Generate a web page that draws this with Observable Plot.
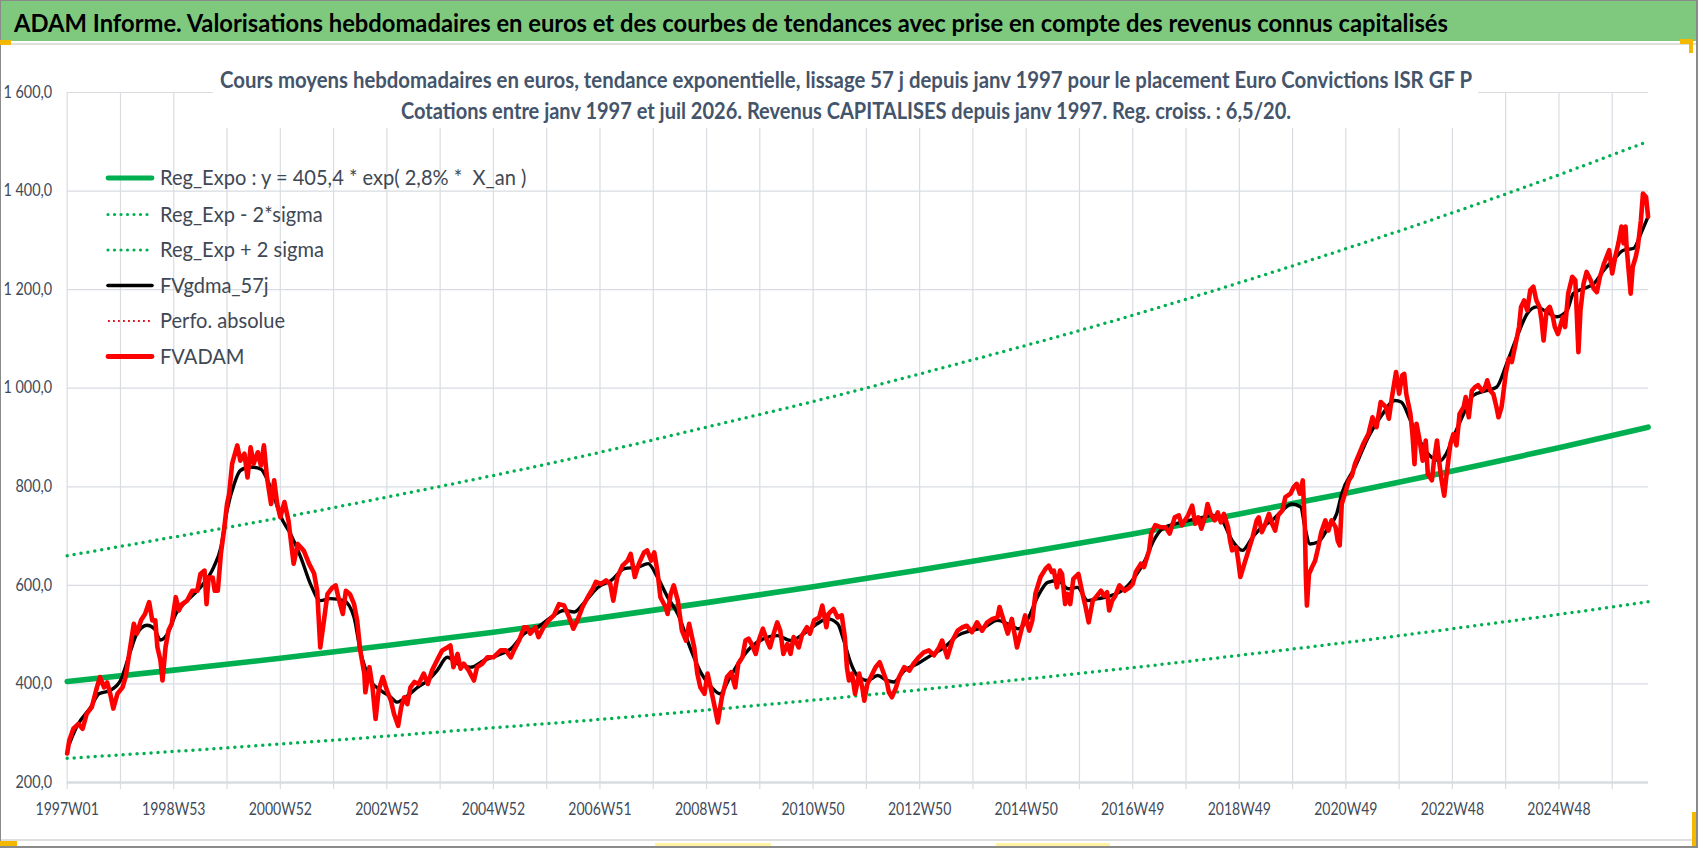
<!DOCTYPE html>
<html lang="fr">
<head>
<meta charset="utf-8">
<title>ADAM Informe</title>
<script src="https://cdn.jsdelivr.net/npm/d3@7"></script>
<script src="https://cdn.jsdelivr.net/npm/@observablehq/plot@0.6"></script>
<style>
  html, body { margin:0; padding:0; background:#fff; }
  #wrap { position:relative; width:1698px; height:848px; overflow:hidden; background:#fff; font-family: Lato, "Open Sans", sans-serif; }
  #chart { position:absolute; left:0; top:42px; width:1698px; height:806px; }
  #chart svg { display:block; }
  #head { position:absolute; left:0; top:0; display:block; }
  .deco { position:absolute; }
</style>
</head>
<body>
<div id="wrap">
  <div id="chart"></div>
  <svg id="head" width="1698" height="46" xmlns="http://www.w3.org/2000/svg">
    <rect x="0" y="0" width="1698" height="41" fill="#7fc97f"></rect>
    <rect x="0" y="43" width="1698" height="2" fill="#dedede"></rect>
    <text id="title" x="14" y="32" text-anchor="start" font-family="Lato, 'Open Sans', sans-serif" font-weight="700" font-size="25" fill="#000">ADAM Informe. Valorisations hebdomadaires en euros et des courbes de tendances avec prise en compte des revenus connus capitalisés</text>
  </svg>
  <div class="deco" style="left:0;top:0;width:1px;height:848px;background:#8a8a8a"></div>
  <div class="deco" style="left:0;top:0;width:1698px;height:1px;background:#8a8a8a"></div>
  <div class="deco" style="left:1696px;top:0;width:2px;height:848px;background:#8a8a8a"></div>
  <div class="deco" style="left:0;top:846px;width:1698px;height:2px;background:#8a8a8a"></div>
  <div class="deco" style="left:1px;top:839px;width:1694px;height:2px;background:#dedede"></div>
  <div class="deco" style="left:0;top:40px;width:11px;height:5px;background:#f5b800"></div>
  <div class="deco" style="left:1680px;top:39px;width:13px;height:5px;background:#f5b800"></div>
  <div class="deco" style="left:1689px;top:39px;width:4px;height:14px;background:#f5b800"></div>
  <div class="deco" style="left:0;top:841px;width:17px;height:5px;background:#f5b800"></div>
  <div class="deco" style="left:1692px;top:812px;width:4px;height:34px;background:#f5b800"></div>
  <div class="deco" style="left:655px;top:843px;width:116px;height:3px;background:#fff2a0"></div>
  <div class="deco" style="left:996px;top:843px;width:114px;height:3px;background:#fff2a0"></div>
</div>
<script>
// ---------- data (week index since 1997W01) ----------
const xTickWeeks = [0,104,208,312,416,520,624,728,832,936,1040,1144,1248,1352,1456];
const xTickLabels = ["1997W01","1998W53","2000W52","2002W52","2004W52","2006W51","2008W51","2010W50","2012W50","2014W50","2016W49","2018W49","2020W49","2022W48","2024W48"];
const gridWeeks = [0,52,104,156,208,260,312,364,416,468,520,572,624,676,728,780,832,884,936,988,1040,1092,1144,1196,1248,1300,1352,1404,1456,1508];
const yTicks = [200,400,600,800,1000,1200,1400,1600];

const trendWeeks = [0,104,208,312,416,520,624,728,832,936,1040,1144,1248,1352,1456,1543];
const regExpo  = [405,428,452,478,505,534,565,597,631,667,704,745,787,832,879,921];
const regLow   = [249,263,278,294,311,328,347,367,388,410,433,458,484,512,541,567];
const regHigh  = [660,698,737,779,823,870,921,973,1029,1087,1148,1214,1283,1356,1433,1501];

const fvadamWeeks = [0,2,6,11,15,19,24,29,32,36,39,42,45,49,54,57,60,65,68,72,76,80,83,86,88,91,93,96,99,102,106,109,112,117,122,127,130,134,136,138,142,144,147,150,153,156,158,161,166,169,173,176,179,182,186,189,192,195,199,202,205,208,212,216,221,
225,231,236,241,244,247,251,254,259,262,265,269,272,276,280,283,286,290,291,295,298,301,304,308,312,316,319,323,326,329,332,335,339,343,348,352,356,361,366,371,374,377,381,384,387,392,397,400,405,410,416,423,428,433,436,441,446,449,452,457,460,465,470,475,480,485,490,494,498,503,508,513,516,521,526,530,533,537,542,547,550,554,558,563,566,570,573,576,579,584,586,589,592,596,600,604,607,612,615,618,622,625,628,632,635,639,644,648,
652,655,659,662,665,668,672,675,679,683,686,690,693,696,699,703,706,709,714,717,722,725,729,734,737,741,743,748,752,756,759,761,763,766,769,773,776,778,781,786,789,793,797,800,802,805,809,812,817,822,826,831,836,841,846,851,854,859,864,869,874,878,883,888,893,898,903,908,910,914,918,922,927,932,935,939,942,945,950,955,958,961,963,966,969,971,974,976,979,982,987,991,994,997,1001,1004,1009,1012,1015,1017,1020,1023,1027,1032,1037,1040,1043,1048,1051,1056,
1058,1062,1067,1072,1076,1081,1085,1088,1091,1094,1098,1101,1104,1107,1111,1113,1116,1120,1123,1126,1129,1133,1135,1137,1141,1143,1145,1149,1153,1157,1161,1163,1166,1169,1173,1176,1179,1182,1186,1189,1194,1197,1200,1203,1206,1208,1209,1210,1212,1215,1218,1221,1224,1228,1231,1234,1238,1240,1242,1244,1248,1251,1254,1257,1261,1265,1270,1274,1278,1282,1287,1290,1293,1297,1300,1303,1305,1307,1311,1313,1315,1317,1320,1323,1326,1328,1332,1334,1337,1339,1341,1344,1346,1350,1353,1356,1359,1363,1365,1368,1371,1374,1377,1381,1384,1386,1389,1392,1395,1397,1400,1402,1404,1407,1410,1413,1417,1419,1422,1425,1428,1431,1434,1437,1439,1441,1444,1447,1450,1452,1455,1457,1460,1462,1465,1469,1472,1475,1477,1480,1483,1487,1490,1493,1496,1500,1505,1508,1511,1514,1517,1519,1521,1522,1526,1528,1531,1533,1536,1538,1541,1543];
const fvadamValues = [259,285,309,319,309,339,353,393,414,393,403,380,350,380,393,414,454,522,502,529,542,566,529,529,475,448,407,475,509,522,576,549,562,569,589,589,623,630,562,616,616,589,589,664,711,765,785,847,884,853,867,819,880,847,870,843,884,819,765,813,765,738,769,731,644,
684,670,644,624,589,474,535,582,596,600,573,542,589,582,562,529,468,421,383,434,393,329,387,414,387,366,339,315,353,373,359,393,404,400,421,400,427,448,468,474,478,434,461,431,441,427,407,434,441,454,454,468,468,454,468,488,515,515,502,515,495,515,529,539,562,559,535,512,529,556,576,593,607,603,610,603,569,617,640,650,664,617,644,667,671,650,667,630,576,556,542,582,600,569,508,488,522,474,421,393,380,421,393,353,322,373,414,424,
393,441,454,488,492,481,461,488,512,488,474,505,525,508,461,481,461,495,474,498,515,502,529,535,559,515,542,552,535,539,495,434,407,421,380,421,393,366,400,421,434,444,421,404,383,373,393,414,434,427,441,454,464,468,458,474,488,454,488,508,515,518,505,525,508,525,532,535,556,529,502,532,474,515,539,508,529,583,617,634,640,627,630,596,630,623,562,583,562,613,623,583,556,525,569,576,589,579,586,549,569,579,600,589,596,603,627,644,637,671,
705,722,718,718,705,738,742,722,732,742,762,725,738,715,742,765,745,732,748,728,745,718,691,671,677,650,617,644,671,698,732,738,708,722,745,725,711,742,752,779,786,799,806,786,813,718,617,559,623,637,650,677,708,732,711,732,718,691,681,765,792,813,823,847,867,887,907,941,921,972,962,938,982,1033,989,1026,1029,988,948,907,846,928,894,853,894,826,813,853,894,853,819,782,819,887,907,884,948,962,982,941,995,1002,1006,995,1002,1016,995,988,962,941,962,995,1029,1060,1053,1083,1124,1165,1178,1158,1199,1206,1178,1165,1138,1097,1158,1165,1145,1124,1110,1124,1145,1124,1192,1226,1219,1073,1158,1212,1236,1219,1202,1195,1226,1253,1280,1233,1267,1294,1328,1294,1328,1287,1192,1246,1267,1287,1341,1395,1388,1348];

const gdmaWeeks = [2,10,23,31,42,52,62,68,78,85,91,98,106,117,130,143,150,156,163,169,179,189,195,202,208,218,228,238,247,257,270,280,286,296,306,316,322,332,342,352,361,371,381,394,407,420,433,446,459,472,485,495,505,518,531,544,557,567,576,586,596,609,619,629,637,647,657,667,680,693,706,719,732,742,752,758,765,771,781,791,800,807,817,830,843,856,869,882,895,908,918,928,937,947,957,967,977,986,996,1006,1019,1032,1042,1052,1061,1069,1082,1095,1108,1118,1127,1137,1147,1157,1166,1176,1186,1195,1204,1208,1213,1221,1231,1239,1244,1257,1270,1283,1296,1302,1311,1320,1330,1340,1346,1353,1363,1372,1385,1395,1405,1415,1425,1434,1444,1454,1464,1470,1480,1490,1500,1509,1519,1529,1536,1543];
const gdmaValues = [278,316,353,380,387,407,468,502,519,512,489,502,542,569,596,637,677,752,806,833,840,836,816,779,742,704,657,600,569,573,569,535,468,407,387,373,363,376,393,407,427,454,441,434,448,458,471,502,515,535,549,546,566,596,610,634,637,644,617,576,542,468,421,393,380,414,448,474,492,498,488,502,522,532,522,488,441,417,407,417,407,404,427,441,458,474,498,508,515,529,522,512,529,576,606,610,593,596,569,573,579,593,617,651,693,715,725,732,738,742,732,691,671,698,718,732,752,765,759,718,684,688,718,745,786,840,901,945,975,972,935,894,863,853,867,901,948,985,995,1002,1050,1104,1151,1165,1155,1145,1158,1192,1202,1212,1240,1260,1280,1284,1314,1348];

const legendLabels = ["Reg_Expo : y = 405,4 * exp( 2,8% *  X_an )","Reg_Exp - 2*sigma","Reg_Exp + 2 sigma","FVgdma_57j","Perfo. absolue","FVADAM"];
const subtitleLines = ["Cours moyens hebdomadaires en euros, tendance exponentielle, lissage 57 j depuis janv 1997 pour le placement Euro Convictions ISR GF P","Cotations entre janv 1997 et juil 2026. Revenus CAPITALISES depuis janv 1997. Reg. croiss. : 6,5/20."];

// ---------- tables ----------
const trendRows = trendWeeks.map((w, i) => ({w, reg: regExpo[i], lo: regLow[i], hi: regHigh[i]}));
const fvRows = fvadamWeeks.map((w, i) => ({w, v: fvadamValues[i]}));
const gdRows = gdmaWeeks.map((w, i) => ({w, v: gdmaValues[i]}));

const GREEN = "#00b050", RED = "#ff0000", GRID = "#d9dce1", AXIS_TXT = "#404a58";
const yFmt = v => (v >= 1000 ? Math.floor(v / 1000) + " " + String(v % 1000).padStart(3, "0") : String(v)) + ",0";

const plot = Plot.plot({
  width: 1698, height: 806,
  marginTop: 50, marginBottom: 66, marginLeft: 66.7, marginRight: 50,
  x: {domain: [0, 1543.4], axis: null},
  y: {domain: [200, 1600], axis: null},
  style: {fontFamily: "Lato, 'Open Sans', sans-serif", background: "white", color: AXIS_TXT, overflow: "visible"},
  marks: [
    Plot.ruleY(yTicks.slice(1), {stroke: GRID, strokeWidth: 1.2}),
    Plot.ruleX(gridWeeks, {stroke: GRID, strokeWidth: 1.2}),
    Plot.axisX({ticks: gridWeeks, tickSize: 7, tickFormat: () => "", label: null, stroke: GRID, strokeWidth: 1.2, strokeOpacity: 1}),
    Plot.ruleY([200], {stroke: GRID, strokeWidth: 2.6}),
    Plot.axisX({ticks: xTickWeeks, tickSize: 0, tickPadding: 20, fontSize: 17.6, label: null, tickFormat: d => xTickLabels[xTickWeeks.indexOf(d)]}),
    Plot.axisY({ticks: yTicks, tickSize: 0, tickPadding: 15, fontSize: 16.3, label: null, tickFormat: yFmt}),
    Plot.line(trendRows, {x: "w", y: "reg", stroke: GREEN, strokeWidth: 5.6, curve: "natural"}),
    Plot.line(trendRows, {x: "w", y: "lo", stroke: GREEN, strokeWidth: 3.5, strokeDasharray: "0 7", strokeLinecap: "round", curve: "natural"}),
    Plot.line(trendRows, {x: "w", y: "hi", stroke: GREEN, strokeWidth: 3.5, strokeDasharray: "0 7", strokeLinecap: "round", curve: "natural"}),
    Plot.line(gdRows, {x: "w", y: "v", stroke: "#000", strokeWidth: 3.4, curve: "monotone-x"}),
    Plot.line(fvRows, {x: "w", y: "v", stroke: RED, strokeWidth: 4.6, strokeLinejoin: "round"})
  ]
});
document.getElementById("chart").appendChild(plot);

const NS = "http://www.w3.org/2000/svg";
function squeeze(el, target) {
  el.setAttribute("textLength", target.toFixed(2));
  el.setAttribute("lengthAdjust", "spacingAndGlyphs");
}
function squeezeBy(el, f) {
  const L = el.getComputedTextLength();
  el.setAttribute("textLength", (L * f).toFixed(2));
  el.setAttribute("lengthAdjust", "spacingAndGlyphs");
}

// axis label compression
const allText = Array.from(plot.querySelectorAll("text"));
const xTexts = allText.filter(t => xTickLabels.includes(t.textContent));
const yTexts = allText.filter(t => yTicks.map(yFmt).includes(t.textContent));
if (xTexts.length) { const f = 63.3 / xTexts[0].getComputedTextLength(); xTexts.forEach(t => squeezeBy(t, f)); }
if (yTexts.length) {
  const ref = yTexts.find(t => t.textContent === "200,0") || yTexts[0];
  const f = 36.7 / ref.getComputedTextLength();
  yTexts.forEach(t => squeezeBy(t, f));
}

// subtitle box (above gridlines, below data lines)
const firstLine = plot.querySelector('g[aria-label="line"]');
const sub = document.createElementNS(NS, "g");
const box = document.createElementNS(NS, "rect");
box.setAttribute("x", 213); box.setAttribute("y", 20); box.setAttribute("width", 1265); box.setAttribute("height", 66); box.setAttribute("fill", "#fff");
sub.appendChild(box);
const subY = [45.5, 76.5], subW = [1252, 890];
subtitleLines.forEach((s, i) => {
  const t = document.createElementNS(NS, "text");
  t.setAttribute("x", 846); t.setAttribute("y", subY[i]);
  t.setAttribute("text-anchor", "middle");
  t.setAttribute("font-size", 22); t.setAttribute("font-weight", 700);
  t.setAttribute("fill", "#44546a");
  t.textContent = s;
  sub.appendChild(t);
});
plot.insertBefore(sub, firstLine);
sub.querySelectorAll("text").forEach((t, i) => squeeze(t, subW[i]));

// legend
const leg = document.createElementNS(NS, "g");
const rowY = [136, 172.5, 208, 243.5, 279, 314.5];
const legStyle = [
  {stroke: GREEN, w: 4.8, dash: null, cap: "round"},
  {stroke: GREEN, w: 3.2, dash: "0 6.5", cap: "round"},
  {stroke: GREEN, w: 3.2, dash: "0 6.5", cap: "round"},
  {stroke: "#000", w: 3.6, dash: null, cap: "round"},
  {stroke: "#e0101a", w: 1.8, dash: "1.8 3.2", cap: "butt"},
  {stroke: RED, w: 4.8, dash: null, cap: "round"}
];
legendLabels.forEach((lab, i) => {
  const s = legStyle[i];
  const ln = document.createElementNS(NS, "line");
  ln.setAttribute("x1", 108); ln.setAttribute("x2", 152);
  ln.setAttribute("y1", rowY[i]); ln.setAttribute("y2", rowY[i]);
  ln.setAttribute("stroke", s.stroke); ln.setAttribute("stroke-width", s.w);
  ln.setAttribute("stroke-linecap", s.cap);
  if (s.dash) ln.setAttribute("stroke-dasharray", s.dash);
  leg.appendChild(ln);
  const t = document.createElementNS(NS, "text");
  t.setAttribute("x", 160); t.setAttribute("y", rowY[i] + 7.2);
  t.setAttribute("text-anchor", "start");
  t.setAttribute("font-size", 20.2); t.setAttribute("fill", "#404854");
  t.setAttribute("style", "white-space:pre");
  t.textContent = lab;
  leg.appendChild(t);
});
plot.appendChild(leg);
const legTexts = Array.from(leg.querySelectorAll("text"));
const fLeg = 125 / legTexts[4].getComputedTextLength();
legTexts.forEach(t => squeezeBy(t, fLeg));

// title
squeeze(document.getElementById("title"), 1434);
</script>
</body>
</html>
